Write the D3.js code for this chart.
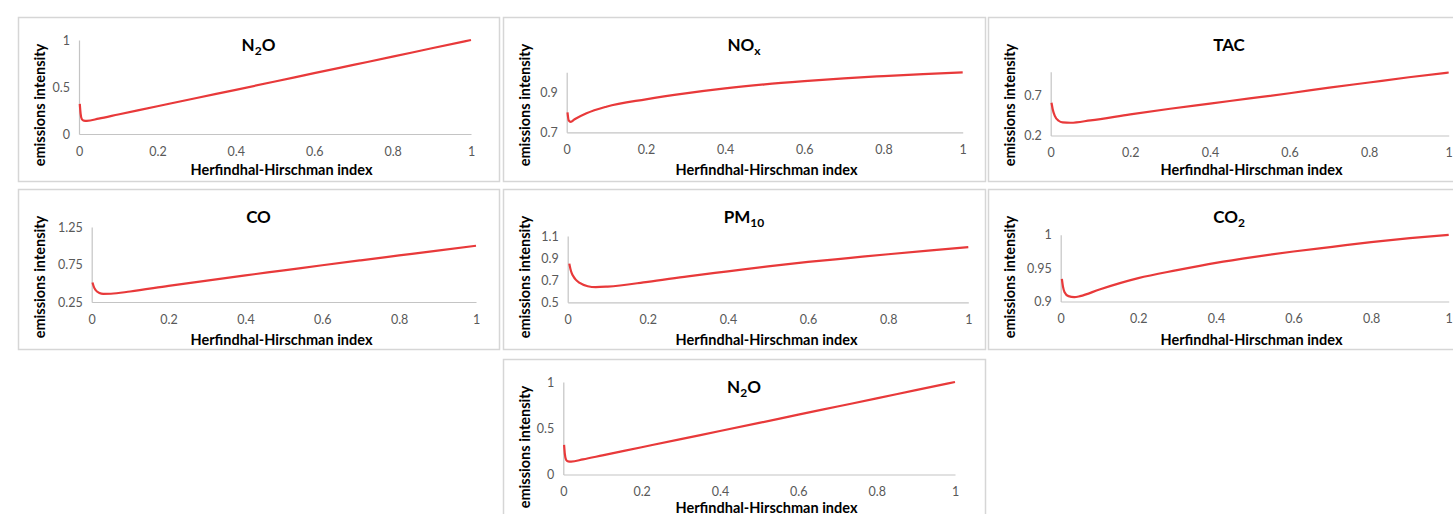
<!DOCTYPE html>
<html>
<head>
<meta charset="utf-8">
<script src="https://cdn.jsdelivr.net/npm/d3@7/dist/d3.min.js"></script>
<style>
  html, body { margin: 0; padding: 0; background: #ffffff; }
  svg { display: block; }
  text { font-family: Lato, "Open Sans", "Liberation Sans", sans-serif; }
</style>
</head>
<body>
<svg id="chart" width="1453" height="514"></svg>
<script>
// ---------------- data ----------------
const xTickValues = [0, 0.2, 0.4, 0.6, 0.8, 1];
const xAxisTitle = "Herfindhal-Hirschman index";
const yAxisTitle = "emissions intensity";

// N2O
const hhiN2O = [0.002, 0.004, 0.007, 0.012, 0.02, 0.05, 0.1, 0.2, 0.3, 0.4, 0.5, 0.6, 0.7, 0.8, 0.9, 1];
const valN2O = [0.32, 0.22, 0.16, 0.142, 0.14, 0.163, 0.207, 0.295, 0.383, 0.47, 0.558, 0.647, 0.735, 0.823, 0.912, 1.0];
const yTicksN2O = [0, 0.5, 1];

// NOx
const hhiNOx = [0.002, 0.005, 0.01, 0.02, 0.05, 0.1, 0.2, 0.3, 0.4, 0.5, 0.6, 0.7, 0.8, 0.9, 1];
const valNOx = [0.80, 0.76, 0.752, 0.765, 0.795, 0.828, 0.865, 0.895, 0.92, 0.94, 0.956, 0.97, 0.981, 0.991, 1.0];
const yTicksNOx = [0.7, 0.9];

// TAC
const hhiTAC = [0.002, 0.005, 0.01, 0.02, 0.03, 0.05, 0.1, 0.2, 0.3, 0.4, 0.5, 0.6, 0.7, 0.8, 0.9, 1];
const valTAC = [0.61, 0.53, 0.45, 0.385, 0.365, 0.36, 0.39, 0.465, 0.535, 0.6, 0.665, 0.73, 0.8, 0.865, 0.93, 0.99];
const yTicksTAC = [0.2, 0.7];

// CO
const hhiCO = [0.002, 0.005, 0.01, 0.02, 0.03, 0.05, 0.1, 0.2, 0.3, 0.4, 0.5, 0.6, 0.7, 0.8, 0.9, 1];
const valCO = [0.51, 0.46, 0.41, 0.37, 0.358, 0.36, 0.39, 0.465, 0.535, 0.605, 0.672, 0.74, 0.806, 0.871, 0.936, 1.0];
const yTicksCO = [0.25, 0.75, 1.25];

// PM10
const hhiPM10 = [0.004, 0.007, 0.01, 0.015, 0.02, 0.03, 0.05, 0.07, 0.1, 0.2, 0.3, 0.4, 0.5, 0.6, 0.7, 0.8, 0.9, 1];
const valPM10 = [0.85, 0.80, 0.765, 0.73, 0.705, 0.675, 0.645, 0.637, 0.642, 0.685, 0.735, 0.78, 0.825, 0.865, 0.90, 0.935, 0.968, 1.0];
const yTicksPM10 = [0.5, 0.7, 0.9, 1.1];

// CO2
const hhiCO2 = [0.003, 0.006, 0.01, 0.02, 0.035, 0.05, 0.1, 0.2, 0.3, 0.4, 0.5, 0.6, 0.7, 0.8, 0.9, 1];
const valCO2 = [0.934, 0.922, 0.914, 0.908, 0.9065, 0.908, 0.918, 0.935, 0.947, 0.958, 0.967, 0.975, 0.982, 0.989, 0.995, 1.0];
const yTicksCO2 = [0.9, 0.95, 1];

// ---------------- panels (data refs + layout) ----------------
const panels = [
  { title: ["N", "2", "O"], subIdx: 1, xs: hhiN2O, ys: valN2O, yTicks: yTicksN2O, yDomain: [0, 1],
    box: [18, 17, 481, 164], plot: [79, 40, 471, 134], xtY: 175 },
  { title: ["NO", "x", ""], subIdx: 1, xs: hhiNOx, ys: valNOx, yTicks: yTicksNOx, yDomain: [0.7, 1.0],
    box: [503, 17, 482, 164], plot: [566.7, 72.3, 962.7, 132.3], xtY: 175 },
  { title: ["TAC", "", ""], subIdx: -1, xs: hhiTAC, ys: valTAC, yTicks: yTicksTAC, yDomain: [0.2, 1.0],
    box: [988, 17, 490, 164], plot: [1050.7, 71.7, 1448.7, 135.5], xtY: 175 },
  { title: ["CO", "", ""], subIdx: -1, xs: hhiCO, ys: valCO, yTicks: yTicksCO, yDomain: [0.25, 1.25],
    box: [18, 189, 481, 160], plot: [91.7, 227, 476, 302], xtY: 345 },
  { title: ["PM", "10", ""], subIdx: 1, xs: hhiPM10, ys: valPM10, yTicks: yTicksPM10, yDomain: [0.5, 1.1],
    box: [503, 189, 482, 160], plot: [567.7, 236, 968.3, 302.3], xtY: 345 },
  { title: ["CO", "2", ""], subIdx: 1, xs: hhiCO2, ys: valCO2, yTicks: yTicksCO2, yDomain: [0.9, 1.0],
    box: [988, 189, 490, 160], plot: [1060.7, 234.8, 1448.7, 301.5], xtY: 345 },
  { title: ["N", "2", "O"], subIdx: 1, xs: hhiN2O, ys: valN2O, yTicks: yTicksN2O, yDomain: [0, 1],
    box: [503, 359, 482, 170], plot: [563.3, 382, 955, 474.5], xtY: 512.5 }
];

const svg = d3.select("#chart");
const fmt = d => String(+d.toFixed(2));

panels.forEach(p => {
  const [bx, by, bw, bh] = p.box;
  const [L, T, R, B] = p.plot;
  const g = svg.append("g");

  g.append("rect")
    .attr("x", bx + 0.5).attr("y", by + 0.5)
    .attr("width", bw).attr("height", bh)
    .attr("fill", "#fff")
    .attr("stroke", "#d6d6d6").attr("stroke-width", 1.5);

  const x = d3.scaleLinear().domain([0, 1]).range([L, R]);
  const y = d3.scaleLinear().domain(p.yDomain).range([B, T]);

  // x axis
  const xa = g.append("g").attr("transform", `translate(0,${B})`)
    .call(d3.axisBottom(x).tickValues(xTickValues).tickSize(0).tickPadding(13).tickFormat(fmt));
  xa.select(".domain").attr("stroke", "#c4c4c4").attr("stroke-width", 1.2);
  xa.selectAll("text").attr("fill", "#595959").attr("font-size", "12.5px")
    .attr("font-family", "Lato, 'Open Sans', sans-serif");

  // y axis
  const ya = g.append("g").attr("transform", `translate(${L},0)`)
    .call(d3.axisLeft(y).tickValues(p.yTicks).tickSize(0).tickPadding(9).tickFormat(fmt));
  ya.select(".domain").attr("stroke", "#c4c4c4").attr("stroke-width", 1.2);
  ya.selectAll("text").attr("fill", "#595959").attr("font-size", "12.5px")
    .attr("font-family", "Lato, 'Open Sans', sans-serif");

  // line
  const line = d3.line()
    .x((d, i) => x(p.xs[i]))
    .y(d => y(d))
    .curve(d3.curveMonotoneX);
  g.append("path")
    .datum(p.ys)
    .attr("d", line)
    .attr("fill", "none")
    .attr("stroke", "#e8393a")
    .attr("stroke-width", 2.2)
    .attr("stroke-linejoin", "round");

  // title
  const t = g.append("text")
    .attr("x", bx + bw / 2 - (bw > 485 ? 4 : 0))
    .attr("y", by + 34)
    .attr("text-anchor", "middle")
    .attr("font-weight", "bold")
    .attr("font-size", "17px")
    .attr("fill", "#000");
  p.title.forEach((s, i) => {
    if (!s) return;
    if (i === p.subIdx) {
      t.append("tspan").text(s).attr("font-size", "12px").attr("dy", "4");
    } else if (i > p.subIdx && p.subIdx >= 0) {
      t.append("tspan").text(s).attr("dy", "-4");
    } else {
      t.append("tspan").text(s);
    }
  });

  // x axis title
  g.append("text")
    .attr("x", bx + 263.5)
    .attr("y", p.xtY)
    .attr("text-anchor", "middle")
    .attr("font-weight", "bold")
    .attr("font-size", "14.5px")
    .attr("fill", "#000")
    .text(xAxisTitle);

  // y axis title
  g.append("text")
    .attr("transform", `translate(${bx + 27},${by + 88}) rotate(-90)`)
    .attr("text-anchor", "middle")
    .attr("font-weight", "bold")
    .attr("font-size", "14.5px")
    .attr("fill", "#000")
    .text(yAxisTitle);
});
</script>
</body>
</html>
